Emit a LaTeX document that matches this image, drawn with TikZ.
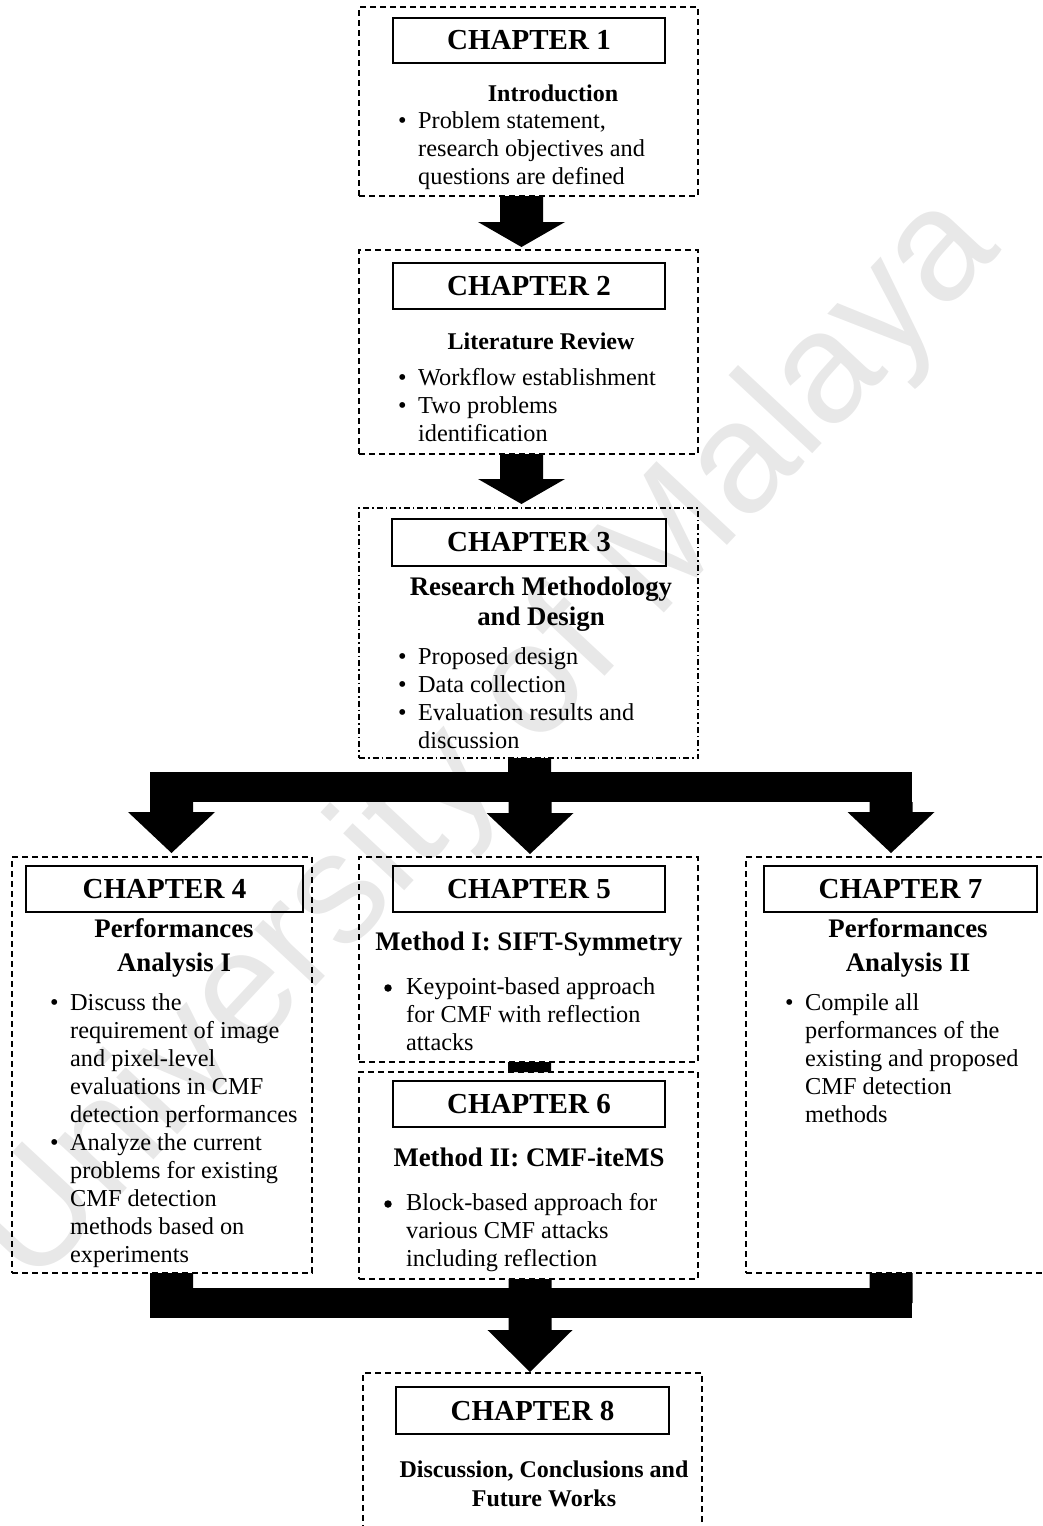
\documentclass[tikz,border=0pt]{standalone}
\usepackage{fontspec}
\setmainfont{Liberation Serif}
\newfontfamily\wmfont{Liberation Sans}
\usetikzlibrary{calc}

% Solid block arrow: shaft starts at the height of #1, tip lies at #2.
% #3 half shaft width, #4 half head width, #5 head length.
\newcommand\blockarrow[5]{%
  \fill let \p1=(#1), \p2=(#2) in
    (\x2-#3,\y1) -- (\x2+#3,\y1) -- (\x2+#3,\y2+#5) -- (\x2+#4,\y2+#5)
    -- (\x2,\y2) -- (\x2-#4,\y2+#5) -- (\x2-#3,\y2+#5) -- cycle;}

\begin{document}
\begin{tikzpicture}[x=1pt,y=-1pt,
  outerbox/.style={draw, line width=1.3pt, dash pattern=on 6pt off 4pt,
    anchor=north west, inner sep=0pt, outer sep=0pt},
  dashdotbox/.style={outerbox, dash pattern=on 6pt off 3pt on 1.5pt off 3pt},
  chapbox/.style={draw, line width=1.5pt, inner sep=0pt, outer sep=0pt,
    font=\fontsize{29}{32}\selectfont\bfseries},
  headS/.style={anchor=base, inner sep=0pt, font=\fontsize{24}{28}\selectfont\bfseries},
  headL/.style={anchor=base, inner sep=0pt, font=\fontsize{26.8}{30}\selectfont\bfseries},
  body/.style={anchor=base west, inner sep=0pt, font=\fontsize{24.3}{28}\selectfont},
  bigdot/.style={circle, fill, inner sep=0pt, minimum size=7.5pt},
  barbox/.style={fill, inner sep=0pt, outer sep=0pt, anchor=north west,
    minimum width=762pt, minimum height=30pt}
]
\useasboundingbox (0,0) rectangle (1043,1526);
\clip (0,0) rectangle (1043,1526);

% background mark
\node[rotate=47, text=black!9, inner sep=0pt,
  font=\wmfont\fontsize{158}{158}\selectfont] (wm) at (488,742) {University of Malaya};

% ---------------- Chapter 1 ----------------
\node[outerbox, minimum width=339pt, minimum height=189pt] (b1) at (359,7) {};
\node[chapbox, minimum width=272pt, minimum height=45pt] (c1) at (529,40.5) {CHAPTER 1};
\node[headS] (h1) at (553,101) {Introduction};
\node[body] (u1a) at (398,128) {•};
\node[body] (t1a) at (418,128) {Problem statement,};
\node[body] (t1b) at (418,156) {research objectives and};
\node[body] (t1c) at (418,184) {questions are defined};

% ---------------- Chapter 2 ----------------
\node[outerbox, minimum width=339pt, minimum height=204pt] (b2) at (359,250) {};
\node[chapbox, minimum width=272pt, minimum height=46pt] (c2) at (529,286) {CHAPTER 2};
\node[headS] (h2) at (541,349) {Literature Review};
\node[body] (u2a) at (398,385) {•};
\node[body] (t2a) at (418,385) {Workflow establishment};
\node[body] (u2b) at (398,413) {•};
\node[body] (t2b) at (418,413) {Two problems};
\node[body] (t2c) at (418,441) {identification};

% ---------------- Chapter 3 ----------------
\node[dashdotbox, minimum width=339pt, minimum height=250pt] (b3) at (359,508) {};
\node[chapbox, minimum width=274pt, minimum height=47pt] (c3) at (529,542.5) {CHAPTER 3};
\node[headL] (h3a) at (541,595) {Research Methodology};
\node[headL] (h3b) at (541,625) {and Design};
\node[body] (u3a) at (398,664) {•};
\node[body] (t3a) at (418,664) {Proposed design};
\node[body] (u3b) at (398,692) {•};
\node[body] (t3b) at (418,692) {Data collection};
\node[body] (u3c) at (398,720) {•};
\node[body] (t3c) at (418,720) {Evaluation results and};
\node[body] (t3d) at (418,748) {discussion};

% ---------------- Chapter 4 ----------------
\node[outerbox, minimum width=300pt, minimum height=416pt] (b4) at (12,857) {};
\node[chapbox, minimum width=277pt, minimum height=46pt] (c4) at (164.5,889) {CHAPTER 4};
\node[headL] (h4a) at (174,937) {Performances};
\node[headL] (h4b) at (174,971) {Analysis I};
\node[body] (u4a) at (50,1010) {•};
\node[body] (t4a) at (70,1010) {Discuss the};
\node[body] (t4b) at (70,1038) {requirement of image};
\node[body] (t4c) at (70,1066) {and pixel-level};
\node[body] (t4d) at (70,1094) {evaluations in CMF};
\node[body] (t4e) at (70,1122) {detection performances};
\node[body] (u4b) at (50,1150) {•};
\node[body] (t4f) at (70,1150) {Analyze the current};
\node[body] (t4g) at (70,1178) {problems for existing};
\node[body] (t4h) at (70,1206) {CMF detection};
\node[body] (t4i) at (70,1234) {methods based on};
\node[body] (t4j) at (70,1262) {experiments};

% ---------------- Chapter 5 ----------------
\node[outerbox, minimum width=339pt, minimum height=205pt] (b5) at (359,857) {};
\node[chapbox, minimum width=272pt, minimum height=46pt] (c5) at (529,889) {CHAPTER 5};
\node[headL] (h5) at (529,950) {Method I: SIFT-Symmetry};
\node[bigdot] (u5a) at (388,988) {};
\node[body] (t5a) at (406,994) {Keypoint-based approach};
\node[body] (t5b) at (406,1022) {for CMF with reflection};
\node[body] (t5c) at (406,1050) {attacks};

% ---------------- Chapter 6 ----------------
\node[outerbox, minimum width=339pt, minimum height=207pt] (b6) at (359,1072) {};
\node[chapbox, minimum width=272pt, minimum height=46pt] (c6) at (529,1104) {CHAPTER 6};
\node[headL] (h6) at (529,1166) {Method II: CMF-iteMS};
\node[bigdot] (u6a) at (388,1204) {};
\node[body] (t6a) at (406,1210) {Block-based approach for};
\node[body] (t6b) at (406,1238) {various CMF attacks};
\node[body] (t6c) at (406,1266) {including reflection};

% ---------------- Chapter 7 ----------------
\node[outerbox, minimum width=300pt, minimum height=416pt] (b7) at (746,857) {};
\node[chapbox, minimum width=273pt, minimum height=46pt] (c7) at (900.5,889) {CHAPTER 7};
\node[headL] (h7a) at (908,937) {Performances};
\node[headL] (h7b) at (908,971) {Analysis II};
\node[body] (u7a) at (785,1010) {•};
\node[body] (t7a) at (805,1010) {Compile all};
\node[body] (t7b) at (805,1038) {performances of the};
\node[body] (t7c) at (805,1066) {existing and proposed};
\node[body] (t7d) at (805,1094) {CMF detection};
\node[body] (t7e) at (805,1122) {methods};

% ---------------- Chapter 8 ----------------
\node[outerbox, minimum width=339pt, minimum height=190pt] (b8) at (363,1373) {};
\node[chapbox, minimum width=273pt, minimum height=47pt] (c8) at (532.5,1410.5) {CHAPTER 8};
\node[headS] (h8a) at (544,1477) {Discussion, Conclusions and};
\node[headS] (h8b) at (544,1506) {Future Works};

% ---------------- block arrows ----------------
\blockarrow{b1.south}{[xshift=-7pt,yshift=3pt]b2.north}{21.5pt}{43.5pt}{25pt}
\blockarrow{b2.south}{[xshift=-7pt,yshift=4pt]b3.north}{21.5pt}{43.5pt}{25pt}

% split towards chapters 4, 5 and 7
\node[barbox] (bar1) at (150,772) {};
\coordinate (j3) at (529.5,787);
\blockarrow{b3.south}{j3}{21.5pt}{21.5pt}{0pt}
\blockarrow{bar1.south}{[xshift=9.5pt,yshift=4pt]b4.north}{21.5pt}{43.5pt}{41pt}
\blockarrow{bar1.south}{[xshift=1.5pt,yshift=3pt]b5.north}{21.5pt}{43.5pt}{41pt}
\blockarrow{bar1.south}{[xshift=-5pt,yshift=4pt]b7.north}{21.5pt}{43.5pt}{41pt}

% chapter 5 to chapter 6
\blockarrow{b5.south}{[xshift=1pt]b6.north}{21.5pt}{21.5pt}{0pt}

% merge towards chapter 8
\node[barbox] (bar2) at (150,1288) {};
\coordinate (j4) at (171.5,1303);
\coordinate (j7) at (891,1303);
\blockarrow{b4.south}{j4}{21.5pt}{21.5pt}{0pt}
\blockarrow{b7.south}{j7}{21.5pt}{21.5pt}{0pt}
\blockarrow{b6.south}{[xshift=-2.5pt,yshift=1pt]b8.north}{21.5pt}{42.5pt}{42pt}
\end{tikzpicture}
\end{document}
